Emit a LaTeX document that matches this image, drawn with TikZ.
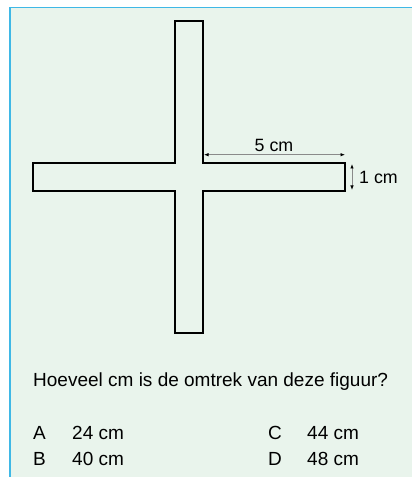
\documentclass[tikz,border=0pt]{standalone}
\usepackage{fontspec}
\setmainfont{Liberation Sans}
\usetikzlibrary{arrows.meta}
\definecolor{bgc}{HTML}{E9F4EC}
\definecolor{bordc}{HTML}{3FB8E6}
\definecolor{dimc}{HTML}{8A8A8A}
\begin{document}
\begin{tikzpicture}[x=1pt,y=1pt,
  txt/.style={inner sep=0pt,font=\fontsize{19}{21}\selectfont},
  dimtxt/.style={inner sep=0pt,font=\fontsize{17.8}{21}\selectfont},
  dimline/.style={draw=dimc,line width=0.8pt,{Latex[length=4.5pt,width=3.5pt,black]}-{Latex[length=4.5pt,width=3.5pt,black]}}]
\useasboundingbox (0,0) rectangle (412,477);
\fill[bgc] (10,0) rectangle (412,469.7);
\draw[bordc,line width=1.4pt] (10,0) -- (10,469.7) -- (412,469.7);
% cross
\draw[black,line width=1.5pt,line join=miter]
  (175,456) -- (203,456) -- (203,314) -- (345,314) -- (345,286) -- (203,286)
  -- (203,144) -- (175,144) -- (175,286) -- (33,286) -- (33,314) -- (175,314) -- cycle;
% dimensions
\coordinate (d5a) at (204,322.3);
\coordinate (d5b) at (345,322.3);
\draw[dimline] (d5a) -- (d5b);
\node[dimtxt,anchor=base] (l5) at (274,325.5) {5 cm};
\coordinate (d1a) at (352,313);
\coordinate (d1b) at (352,287);
\draw[dimline] (d1a) -- (d1b);
\node[dimtxt,anchor=west] (l1) at (359,300) {1 cm};
% question
\node[txt,anchor=base west] (q) at (33,90.3) {Hoeveel cm is de omtrek van deze figuur?};
\node[txt,anchor=base west] (la) at (33,37) {A};
\node[txt,anchor=base west] (ta) at (72,37) {24 cm};
\node[txt,anchor=base west] (lc) at (268,37) {C};
\node[txt,anchor=base west] (tc) at (307,37) {44 cm};
\node[txt,anchor=base west] (lb) at (33,11.5) {B};
\node[txt,anchor=base west] (tb) at (72,11.5) {40 cm};
\node[txt,anchor=base west] (ld) at (268,11.5) {D};
\node[txt,anchor=base west] (td) at (307,11.5) {48 cm};
\end{tikzpicture}
\end{document}
